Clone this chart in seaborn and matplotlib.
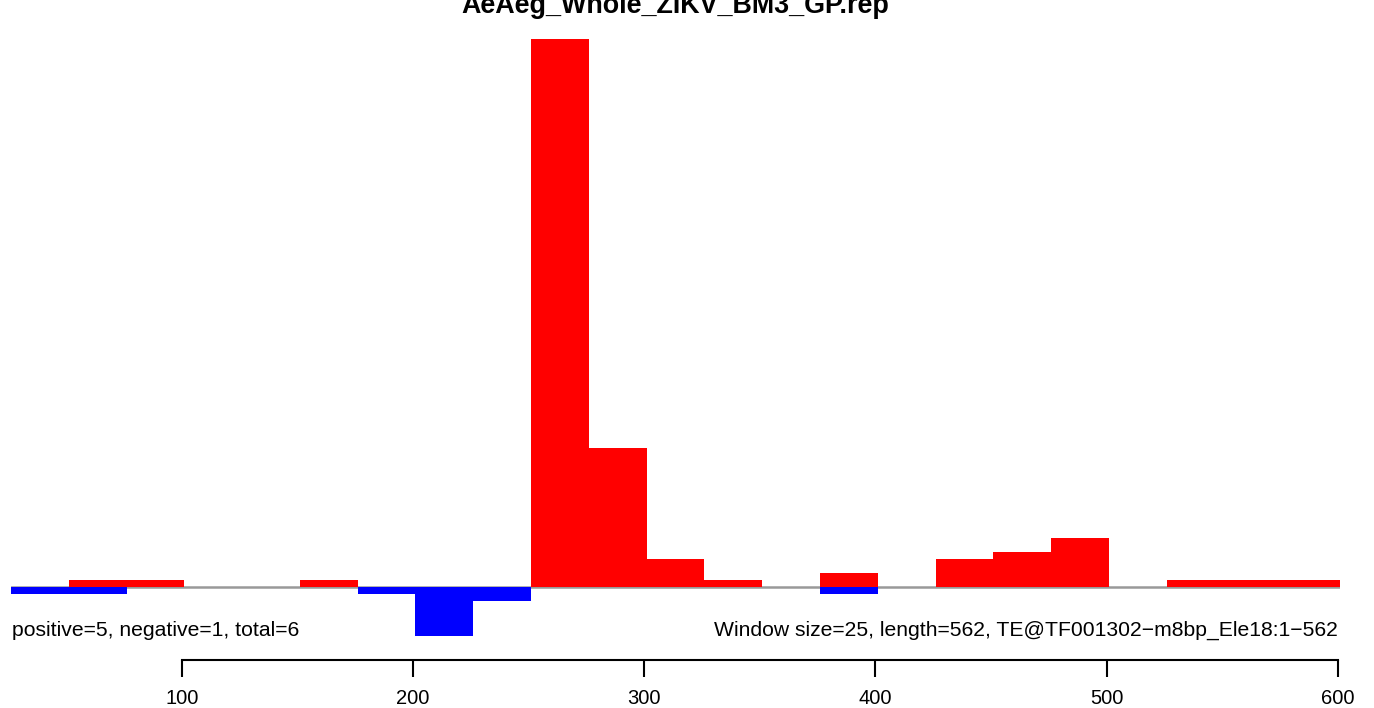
import numpy as np
import pandas as pd
import matplotlib
matplotlib.use('Agg')
import matplotlib.pyplot as plt
import seaborn as sns

# janelas de 25 bp (início de cada janela)
inicio = [26, 51, 76, 101, 126, 151, 176, 201, 226, 251, 276, 301,
          326, 351, 376, 401, 426, 451, 476, 501, 526, 551, 576]
positivos = [0, 1, 1, 0, 0, 1, 0, 0, 0, 79, 20, 4,
             1, 0, 2, 0, 4, 5, 7, 0, 1, 1, 1]
negativos = [1, 1, 0, 0, 0, 0, 1, 7, 2, 0, 0, 0,
             0, 0, 1, 0, 0, 0, 0, 0, 0, 0, 0]
tamanho_janela = 25
ticks_x = [100, 200, 300, 400, 500, 600]

titulo = "AeAeg_Whole_ZIKV_BM3_GP.rep"
texto_esq = "positive=5, negative=1, total=6"
texto_dir = "Window size=25, length=562, TE@TF001302\u2212m8bp_Ele18:1\u2212562"

sns.set_style("white")
plt.rcParams['font.family'] = ['Liberation Sans', 'DejaVu Sans']
plt.rcParams['text.color'] = 'black'

df = pd.DataFrame({'inicio': inicio, 'pos': positivos,
                   'neg': [-v for v in negativos]})
df['centro'] = df['inicio'] + tamanho_janela / 2
bordas = list(inicio) + [inicio[-1] + tamanho_janela]

W, H = 1374, 708
fig = plt.figure(figsize=(W / 100, H / 100), dpi=100)
# eixo: 0 em y=587 px, 1 unidade ~ 6.94 px
x0, x1 = 11, 1340
y_top, y_bot = 20, 660
unid = 6.94
ax = fig.add_axes([x0 / W, 1 - y_bot / H, (x1 - x0) / W, (y_bot - y_top) / H])

sns.histplot(data=df, x='centro', weights='pos', bins=bordas, color='#ff0000',
             alpha=1, linewidth=0, ax=ax)
sns.histplot(data=df, x='centro', weights='neg', bins=bordas, color='#0000ff',
             alpha=1, linewidth=0, ax=ax)
ax.axhline(0, color='#999999', lw=1.8, zorder=0)

ax.set_xlim(inicio[0], inicio[-1] + tamanho_janela)
ax.set_ylim(-(y_bot - 587) / unid, (587 - y_top) / unid)
ax.set_xlabel('')
ax.set_ylabel('')
ax.set_yticks([])
for s in ['top', 'right', 'left']:
    ax.spines[s].set_visible(False)
ax.spines['bottom'].set_bounds(100, 600)
ax.spines['bottom'].set_color('black')
ax.spines['bottom'].set_linewidth(1.5)
ax.set_xticks(ticks_x)
ax.tick_params(axis='x', direction='out', length=12, width=1.5, pad=9,
               labelsize=14.5, bottom=True, colors='black')

fig.text(12 / W, 1 - 630 / H, texto_esq, ha='left', va='center', fontsize=15.2)
fig.text(1338 / W, 1 - 630 / H, texto_dir, ha='right', va='center', fontsize=15.2)
fig.text(675 / W, 1 - 13 / H, titulo, ha='center', va='baseline', fontsize=19.4,
         fontweight='bold')

fig.savefig('out.png', dpi=100)
